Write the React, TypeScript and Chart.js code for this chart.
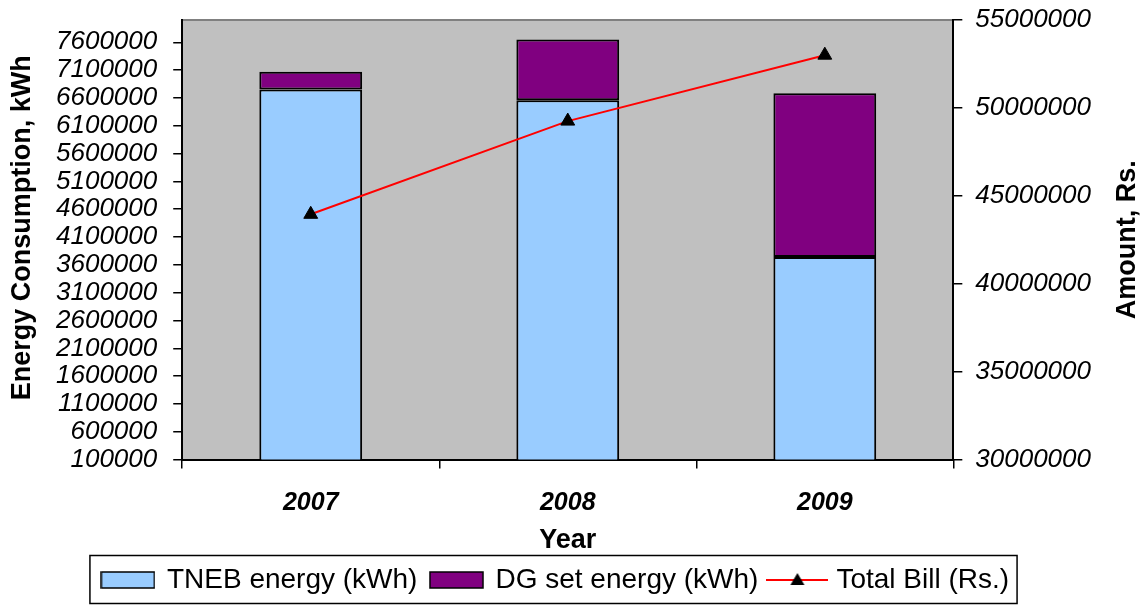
import React, { useEffect, useRef } from 'react';
import { Chart, registerables } from 'chart.js';

Chart.register(...registerables);

const years = ['2007', '2008', '2009'];
const tnebEnergy = [6750000, 6560000, 3740000];
const dgEnergy = [320000, 1090000, 2945000];
const totalBill = [43950000, 49250000, 53000000];

const energyTicks = [
  100000, 600000, 1100000, 1600000, 2100000, 2600000, 3100000, 3600000,
  4100000, 4600000, 5100000, 5600000, 6100000, 6600000, 7100000, 7600000,
];
const amountTicks = [30000000, 35000000, 40000000, 45000000, 50000000, 55000000];

const FONT = "'Liberation Sans', Arial, sans-serif";

// legend markers drawn as little images (Excel style swatches)
const makeSwatch = (fill: string) => {
  const c = document.createElement('canvas');
  c.width = 55;
  c.height = 18;
  const g = c.getContext('2d')!;
  g.fillStyle = fill;
  g.fillRect(1, 1, 53, 16);
  g.strokeStyle = '#000';
  g.lineWidth = 1.5;
  g.strokeRect(1, 1, 53, 16);
  return c;
};

const makeLineMarker = () => {
  const c = document.createElement('canvas');
  c.width = 62;
  c.height = 20;
  const g = c.getContext('2d')!;
  g.strokeStyle = '#ff0000';
  g.lineWidth = 2;
  g.beginPath();
  g.moveTo(0, 10);
  g.lineTo(62, 10);
  g.stroke();
  g.fillStyle = '#000';
  g.beginPath();
  g.moveTo(31, 3);
  g.lineTo(38, 15);
  g.lineTo(24, 15);
  g.closePath();
  g.fill();
  return c;
};

const framePlugin = {
  id: 'frame',
  beforeDraw(chart: Chart) {
    const { ctx, chartArea: a } = chart;
    ctx.save();
    ctx.fillStyle = '#c0c0c0';
    ctx.fillRect(a.left, a.top, a.right - a.left, a.bottom - a.top);
    ctx.strokeStyle = '#808080';
    ctx.lineWidth = 2;
    ctx.beginPath();
    ctx.moveTo(a.left, a.top);
    ctx.lineTo(a.right, a.top);
    ctx.stroke();
    ctx.restore();
  },
  afterDraw(chart: Chart) {
    const { ctx, chartArea: a } = chart;
    ctx.save();
    ctx.fillStyle = '#000';
    ctx.font = `bold 27px ${FONT}`;
    ctx.textAlign = 'center';
    ctx.textBaseline = 'middle';

    // axis titles, both reading bottom-to-top like Excel
    ctx.save();
    ctx.translate(a.left - 160, (a.top + a.bottom) / 2 - 12);
    ctx.rotate(-Math.PI / 2);
    ctx.fillText('Energy Consumption, kWh', 0, 0);
    ctx.restore();

    ctx.save();
    ctx.translate(a.right + 174, (a.top + a.bottom) / 2);
    ctx.rotate(-Math.PI / 2);
    ctx.fillText('Amount, Rs.', 0, 0);
    ctx.restore();

    // border round the legend
    const boxes = (chart.legend as any)?.legendHitBoxes ?? [];
    if (boxes.length) {
      const first = boxes[0];
      const last = boxes[boxes.length - 1];
      const l = first.left - 13;
      const r = last.left + last.width + 8;
      const t = first.top - 10.5;
      const b = first.top + first.height + 9.5;
      ctx.strokeStyle = '#000';
      ctx.lineWidth = 1.5;
      ctx.strokeRect(l, t, r - l, b - t);
    }
    ctx.restore();
  },
};

// drop the label overflow padding chart.js asks for round the value axes;
// the left box is widened so the legend centre sits left of the canvas centre
const fitLeft = (scale: any) => {
  scale.paddingTop = 0;
  scale.paddingBottom = 0;
  scale.width += 32;
};
const fitRight = (scale: any) => {
  scale.paddingTop = 0;
  scale.paddingBottom = 0;
};

const App = () => {
  const chartRef = useRef<HTMLCanvasElement>(null);
  const chartInstance = useRef<Chart | null>(null);

  useEffect(() => {
    if (!chartRef.current) return;
    const ctx = chartRef.current.getContext('2d');
    if (!ctx) return;

    if (chartInstance.current) {
      chartInstance.current.destroy();
    }

    const markers = [makeSwatch('#99ccff'), makeSwatch('#800080'), makeLineMarker()];

    const axisGrid = {
      drawOnChartArea: false,
      drawTicks: true,
      tickLength: 9,
      color: '#000',
      lineWidth: 1.5,
    };
    const axisBorder = { display: true, color: '#000', width: 2 };
    const tickFont = { family: FONT, size: 26, style: 'italic' as const, lineHeight: 1.2 };

    chartInstance.current = new Chart(ctx, {
      type: 'bar',
      data: {
        labels: years,
        datasets: [
          {
            type: 'bar',
            label: 'TNEB energy (kWh)',
            data: tnebEnergy,
            backgroundColor: '#99ccff',
            borderColor: '#000',
            borderWidth: 2,
            borderSkipped: false,
            barPercentage: 0.4,
            categoryPercentage: 1,
            clip: 0,
            yAxisID: 'y',
          },
          {
            type: 'bar',
            label: 'DG set energy (kWh)',
            data: dgEnergy,
            backgroundColor: '#800080',
            borderColor: '#000',
            borderWidth: 2,
            borderSkipped: false,
            barPercentage: 0.4,
            categoryPercentage: 1,
            clip: 0,
            yAxisID: 'y',
          },
          {
            type: 'line',
            label: 'Total Bill (Rs.)',
            data: totalBill,
            borderColor: '#ff0000',
            borderWidth: 2,
            backgroundColor: '#000',
            pointStyle: 'triangle',
            pointRadius: 8,
            pointBackgroundColor: '#000',
            pointBorderColor: '#000',
            pointBorderWidth: 1,
            tension: 0,
            order: -1,
            yAxisID: 'y1',
          },
        ],
      } as any,
      options: {
        responsive: false,
        maintainAspectRatio: false,
        animation: false,
        layout: {
          autoPadding: false,
          padding: { left: 8, right: 36, top: 20, bottom: 1 },
        },
        scales: {
          x: {
            stacked: true,
            grid: axisGrid,
            border: axisBorder,
            afterFit: (scale: any) => {
              scale.height -= 18;
            },
            ticks: {
              color: '#000',
              padding: 20,
              font: { family: FONT, size: 25, style: 'italic', weight: 'bold', lineHeight: 1.2 },
            },
            title: {
              display: true,
              text: 'Year',
              color: '#000',
              font: { family: FONT, size: 27, weight: 'bold', lineHeight: 1.2 },
              padding: { top: 4, bottom: -5 },
            },
          },
          y: {
            position: 'left',
            stacked: true,
            min: 100000,
            max: 8000000,
            afterBuildTicks: (scale: any) => {
              scale.ticks = energyTicks.map((value) => ({ value }));
            },
            afterFit: fitLeft,
            grid: axisGrid,
            border: axisBorder,
            ticks: {
              autoSkip: false,
              color: '#000',
              padding: 16,
              font: tickFont,
              callback: (v: any) => String(v),
            },
          },
          y1: {
            position: 'right',
            min: 30000000,
            max: 55000000,
            afterBuildTicks: (scale: any) => {
              scale.ticks = amountTicks.map((value) => ({ value }));
            },
            afterFit: fitRight,
            grid: axisGrid,
            border: axisBorder,
            ticks: {
              autoSkip: false,
              color: '#000',
              padding: 13,
              font: tickFont,
              callback: (v: any) => String(v),
            },
          },
        },
        plugins: {
          tooltip: { enabled: false },
          legend: {
            position: 'bottom',
            labels: {
              usePointStyle: true,
              pointStyleWidth: 50,
              color: '#000',
              padding: 14,
              font: { family: FONT, size: 28, lineHeight: 1.2 },
              generateLabels: (chart: Chart) => {
                const items = Chart.defaults.plugins.legend.labels.generateLabels(chart);
                items.sort((p, q) => (p.datasetIndex ?? 0) - (q.datasetIndex ?? 0));
                return items.map((item) => ({
                  ...item,
                  pointStyle: markers[item.datasetIndex ?? 0],
                  rotation: 0,
                }));
              },
            },
          },
        },
      } as any,
      plugins: [framePlugin],
    });

    return () => {
      if (chartInstance.current) {
        chartInstance.current.destroy();
        chartInstance.current = null;
      }
    };
  }, []);

  return (
    <div style={{ position: 'absolute', left: 0, top: 0, width: 1140, height: 605, background: '#fff' }}>
      <canvas ref={chartRef} width={1140} height={605} />
    </div>
  );
};

export default App;
